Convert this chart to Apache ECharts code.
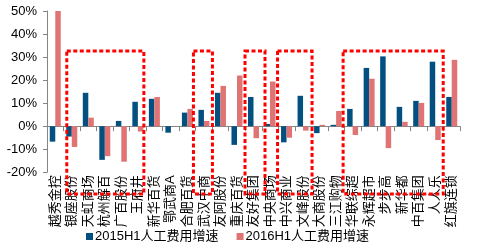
<!DOCTYPE html>
<html>
<head>
<meta charset="utf-8">
<script src="https://cdn.jsdelivr.net/npm/echarts@6/dist/echarts.min.js"></script>
<style>
  html, body { margin: 0; padding: 0; background: #fff; }
  #chart { width: 482px; height: 248px; }
</style>
</head>
<body>
<div id="chart"></div>
<script>
// Retail companies on the category axis
const categories = ['越秀金控','银座股份','天虹商场','杭州解百','广百股份','王府井','新华百货','鄂武商A','合肥百货','武汉中商','友阿股份','重庆百货','友好集团','中央商场','中兴商业','文峰股份','大商股份','三江购物','华联综超','永辉超市','步步高','新华都','中百集团','人人乐','红旗连锁'];

// Labour cost growth, percent
const growth2015H1 = [-6.7, -4.5, 14.5, -14.6, 2.3, 10.6, 11.9, -2.8, 5.9, 7.1, 14.5, -8.1, 12.7, 1.0, -7.0, 13.2, -3.0, 0.6, 7.5, 25.3, 30.3, 8.4, 11.0, 28.0, 12.7];
const growth2016H1 = [50.0, -9.0, 3.7, -13.0, -15.4, -2.3, 12.7, 0, 7.5, 2.3, 17.5, 22.0, -5.2, 19.4, -5.0, -1.9, 0.6, 6.6, -3.8, 20.6, -9.5, 1.9, 10.1, -6.0, 28.8];

const seriesNames = ['2015H1人工费用增速', '2016H1人工费用增速'];

// Value axis ticks (percent)
const yMin = -20, yMax = 50, yStep = 10;

// Company groups outlined with dotted boxes
const highlightGroups = [
  ['银座股份', '王府井'],
  ['武汉中商', '武汉中商'],
  ['友好集团', '友好集团'],
  ['中兴商业', '文峰股份'],
  ['华联综超', '人人乐']
];

const boxPad = [[-5, 6], [-10.5, 8.5], [-8.5, 11.5], [-9, 9], [-9.5, 8]];
const boxTop = 51, boxBottom = 194;

const chart = echarts.init(document.getElementById('chart'), null, { renderer: 'canvas' });
const font = '"Liberation Sans", "Noto Sans CJK SC", sans-serif';

chart.setOption({
  animation: false,
  backgroundColor: '#fff',
  textStyle: { fontFamily: font },
  grid: { left: 47, right: 22, top: 11, bottom: 75.7, containLabel: false },
  legend: {
    data: seriesNames,
    left: 81, top: 225,
    itemWidth: 7, itemHeight: 7, itemGap: 18,
    icon: 'rect',
    textStyle: { fontSize: 13, color: '#000', fontFamily: font, padding: [0, 0, 0, -3] }
  },
  xAxis: {
    type: 'category',
    data: categories,
    axisLine: { onZero: true, lineStyle: { color: '#868686', width: 1 } },
    axisTick: { show: true, length: 5, alignWithLabel: false, lineStyle: { color: '#868686' } },
    axisLabel: { rotate: 90, interval: 0, margin: 3, fontSize: 13, color: '#000', fontFamily: font }
  },
  yAxis: {
    type: 'value',
    min: yMin, max: yMax, interval: yStep,
    splitLine: { show: false },
    axisLine: { show: true, lineStyle: { color: '#868686', width: 1 } },
    axisTick: { show: true, length: 4, inside: false, lineStyle: { color: '#868686' } },
    axisLabel: { formatter: '{value}%', fontSize: 13, color: '#000', margin: 10, fontFamily: font }
  },
  series: [
    { name: seriesNames[0], type: 'bar', data: growth2015H1, barWidth: 5.5, barGap: '0%',
      itemStyle: { color: '#02507F' } },
    { name: seriesNames[1], type: 'bar', data: growth2016H1, barWidth: 5.5, barGap: '0%',
      itemStyle: { color: '#E07474' } }
  ]
});

// Dotted red boxes around company groups, placed from the category axis
const boxes = highlightGroups.map((g, i) => {
  const x0 = chart.convertToPixel({ xAxisIndex: 0 }, g[0]) + boxPad[i][0];
  const x1 = chart.convertToPixel({ xAxisIndex: 0 }, g[1]) + boxPad[i][1];
  return {
    type: 'rect',
    z: 100,
    shape: { x: x0, y: boxTop, width: x1 - x0, height: boxBottom - boxTop },
    style: { fill: null, stroke: '#FF0000', lineWidth: 3, lineDash: [4, 2.5] }
  };
});
chart.setOption({ graphic: boxes });
</script>
</body>
</html>
